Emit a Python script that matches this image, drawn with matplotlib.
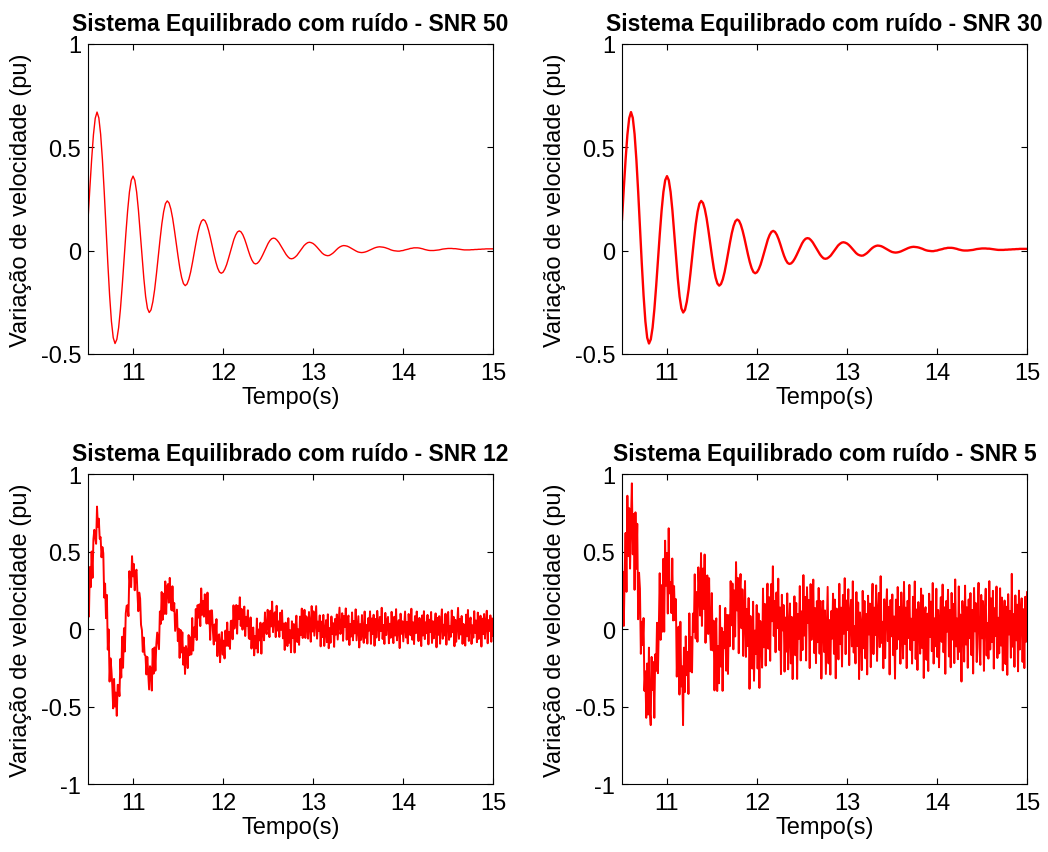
import numpy as np
import matplotlib.pyplot as plt

plt.rcParams['font.family'] = ['Liberation Sans', 'DejaVu Sans']

# sample clock of the recorded speed deviation (s)
t_start, t_end = 10.5, 15.0

# speed deviation (pu), one value every 0.02 s
clean = [
    .15, .30, .44, .56, .64,
    .67, .642, .563, .439, .283, .11, -.063, -.219, -.343, -.422, -.45,
    -.43, -.373, -.283, -.17, -.045, .08, .193, .283, .34, .36,
    .34, .283, .195, .087, -.027, -.135, -.223, -.28, -.30,
    -.287, -.248, -.189, -.113, -.03, .053, .129, .188, .227, .24,
    .23, .201, .156, .098, .035, -.028, -.086, -.131, -.16, -.17,
    -.162, -.139, -.104, -.059, -.01, .039, .084, .119, .142, .15,
    .144, .125, .096, .06, .02, -.02, -.056, -.085, -.104, -.11,
    -.105, -.09, -.068, -.039, -.008, .024, .053, .075, .09, .095,
    .09, .076, .055, .029, .001, -.025, -.046, -.06, -.065,
    -.062, -.053, -.039, -.022, -.003, .017, .034, .048, .057, .06,
    .058, .05, .039, .025, .01, -.005, -.019, -.03, -.038, -.04,
    -.038, -.032, -.024, -.012, 0, .012, .024, .032, .038, .04,
    .038, .034, .027, .018, .008, -.002, -.012, -.019, -.023, -.025,
    -.024, -.019, -.013, -.005, .004, .012, .018, .022, .024,
    .023, .021, .017, .012, .007, .002, -.003, -.007, -.009, -.01,
    -.009, -.007, -.004, 0, .004, .008, .012, .015, .017, .018,
    .017, .016, .014, .011, .008, .004, .001, -.001, -.002, -.003,
    -.003, -.001, 0, .003, .005, .007, .01, .011, .013, .013,
    .013, .012, .01, .008, .005, .003, .001, 0, 0,
    0, .001, .002, .003, .005, .007, .008, .009, .01, .01,
    .01, .009, .009, .008, .0065, .005, .004, .003, .003, .003,
    .003, .004, .004, .005, .005, .006, .006, .007, .007, .008, .008, .008, .008, .008,
]

# noise on the SNR 12 and SNR 5 traces, every 0.01 s (hundredths of pu)
noise_snr12 = [
    4, -7, 10, -3, 6, -11, 2, 8, -5, -9, 12, -1, 7, -6, 3, -10, 9, 5, -8, 1,
    -4, 11, -7, 6, -12, 3, 8, -2, -9, 10, -5, 4, -13, 7, 1, -6, 9, -3, 12, -8,
    5, -10, 2, 7, -4, -11, 9, 0, -7, 13, -2, 6, -9, 3, 10, -5, -8, 4, 11, -6,
    2, -12, 8, -3, 5, -7, 10, -1, -9, 6, 3, -11, 12, -4, 7, -8, 1, 9, -5, -10,
    6, -2, 11, -7, 4, -9, 8, -13, 3, 5, -6, 10, -1, -8, 12, -4, 7, -11, 2, 9,
    -5, 3, -10, 8, -2, 11, -7, 4, -12, 6, 1, -9, 10, -3, 5, -6, 13, -8, 2, -4,
    9, -11, 7, -1, 4, -10, 12, -5, 3, -7, 8, 0, -9, 11, -6, 2, -13, 6, 10, -3,
    -8, 5, -2, 12, -9, 4, 7, -11, 1, 9, -6, 3, -10, 8, -4, 11, -7, 2, -12, 6,
    3, -9, 10, -5, 1, 8, -12, 6, -3, 11, -7, 4, -8, 2, 9, -10, 5, -1, 12, -6,
    -4, 10, -8, 3, 7, -11, 2, -6, 13, -9, 5, -2, 8, -12, 4, 6, -7, 11, -3, -5,
    9, -1, -10, 7, -4, 12, -8, 3, 5, -11, 10, -6, 1, -9, 8, -3, 11, -7, 4, -13,
    6, 2, -8, 10, -5, 3, -11, 9, -2, 7, -12, 4, 11, -6, 1, -9, 8, -4, 12, -7,
    -3, 10, -9, 5, 2, -10, 7, -1, -12, 11, -5, 8, -7, 3, 13, -8, 4, -2, 9, -11,
    6, -4, 11, -9, 1, 8, -6, 12, -10, 3, -7, 10, -2, 5, -11, 7, -4, 9, -8, 2,
    12, -5, -3, 8, -10, 6, -1, 11, -9, 4, 7, -12, 2, -6, 10, -8, 5, -3, 13, -7,
    1, 9, -11, 4, -6, 10, -2, -8, 12, -5, 3, -9, 7, -1, 11, -10, 6, -4, 8, -12,
    5, -7, 10, 2, -9, 6, -3, 12, -8, 1, -11, 9, -5, 4, 7, -10, 3, -6, 11, -2,
    -9, 8, -4, 13, -7, 2, 6, -12, 10, -3, 5, -8, 1, 11, -6, 4, -10, 9, -2, -5,
    12, -8, 3, -11, 7, -4, 10, -1, -9, 6, 2, -12, 8, -5, 11, -7, 4, -3, 9, -10,
    6, -2, 11, -9, 5, -6, 1, 10, -12, 7, -4, 8, -10, 3, 12, -7, 2, -5, 9, -11,
    4, 10, -8, 1, -6, 11, -3, 7, -12, 5, -9, 2, 13, -7, 6, -4, 8, -10, 3, -1,
    -11, 9, -5, 12, -8, 4, 7, -10, 2, -6, 11, -3, 5, -9, 10, -7, 1, 8, -12, 6,
    -4, 9, -7, 3, 11, -10, 5, -2, 8, -9, 6, -5,
]

noise_snr5 = [
    -12, 22, -28, 6, 18, -20, 30, -9, 14, -25, 3, 27, -16, 10, -31, 19, -5, 24, -22, 8,
    15, -27, 11, -4, 29, -18, 7, -23, 20, -13, 33, -8, -19, 25, -2, 16, -29, 12, -10, 21,
    -24, 5, 28, -15, 9, -21, 17, -30, 23, -6, 13, -26, 31, -11, 2, -18, 26, -14, 19, -3,
    22, -28, 8, 15, -20, 27, -9, 4, -32, 18, -12, 24, -5, 10, -23, 29, -16, 6, -25, 13,
    -7, 30, -19, 11, -27, 21, 3, -14, 25, -22, 16, -10, 28, -29, 7, 19, -13, 23, -4, -17,
    26, -11, 14, -31, 9, 20, -24, 5, -18, 32, -8, 17, -26, 12, -2, 24, -21, 15, -28, 10,
    -15, 27, -6, 21, -25, 13, -19, 29, -3, 18, -30, 8, 23, -12, 16, -27, 4, 25, -20, 11,
    -9, 22, -33, 14, 6, -17, 28, -23, 10, -5, 26, -15, 19, -29, 12, 2, -21, 30, -11, 17,
    -26, 7, 24, -18, 13, -28, 20, -4, 31, -14, 9, -24, 16, -7, 27, -19, 11, -32, 22, -1,
    18, -25, 12, -10, 29, -20, 6, 23, -16, 14, -27, 3, 25, -13, 19, -30, 10, -6, 26, -22,
    8, -17, 30, -9, 15, -26, 21, -2, 13, -31, 24, -12, 5, 28, -18, 11, -23, 17, -8, 27,
    -14, 20, -29, 7, 22, -11, 16, -25, 3, 31, -19, 9, -27, 14, -5, 24, -16, 19, -33, 12,
    6, -22, 26, -13, 10, -28, 18, -7, 29, -20, 15, -4, 23, -26, 8, 17, -12, 30, -15, 2,
    -21, 25, -9, 19, -30, 13, 4, -24, 27, -10, 20, -17, 11, -28, 22, -3, 16, -25, 9, 28,
    -18, 12, -6, 26, -23, 7, 21, -14, 32, -11, 3, -27, 18, -20, 10, 25, -8, 14, -29, 19,
    -4, 23, -16, 9, -31, 20, -12, 28, -6, 15, -22, 24, -1, -19, 30, -10, 13, -26, 17, -7,
    27, -15, 5, -24, 19, -9, 29, -21, 11, -28, 16, 2, -17, 25, -13, 21, -32, 8, 14, -20,
    10, -27, 23, -5, 18, -14, 30, -22, 7, -11, 26, -18, 12, -25, 4, 20, -9, 28, -16, 13,
    -30, 17, -3, 24, -19, 11, -26, 22, -8, 15, -23, 31, -12, 6, -20, 27, -15, 9, -34, 18,
    5, -21, 28, -10, 14, -25, 19, -6, 23, -17, 12, -29, 26, -2, 16, -22, 8, 29, -13, -24,
    21, -7, 17, -28, 10, 25, -18, 3, -20, 30, -14, 19, -9, 24, -26, 13, -5, 27, -19, 7,
    -16, 26, -11, 20, -27, 6, 18, -23, 14, -30, 22, -4, 11, -19, 35, -12, 9, -25, 21, -8,
    15, -28, 24, -14, 7, 19, -22, 12, -26, 20, -9, 23,
]

titles = ['Sistema Equilibrado com ruído - SNR 50',
          'Sistema Equilibrado com ruído - SNR 30',
          'Sistema Equilibrado com ruído - SNR 12',
          'Sistema Equilibrado com ruído - SNR 5']
x_ticks = [11, 12, 13, 14, 15]
y_ticks_top = [-0.5, 0, 0.5, 1]
y_ticks_bottom = [-1, -0.5, 0, 0.5, 1]


def noisy_trace(noise):
    # the clean record is held over the two 0.01 s noise samples
    n = min(len(noise), 2 * len(clean))
    base = np.repeat(np.array(clean), 2)[:n]
    tt = np.linspace(t_start, t_end, n)
    return tt, base + np.array(noise[:n]) / 100.0


t = np.linspace(t_start, t_end, len(clean))
series = [
    (t, np.array(clean), 1.0),
    (t, np.array(clean), 1.7),
    (*noisy_trace(noise_snr12), 1.4),
    (*noisy_trace(noise_snr5), 1.4),
]

fig = plt.figure(figsize=(10.48, 8.53), dpi=100)
positions = [
    [0.084, 0.584, 0.3865, 0.3634],
    [0.5935, 0.584, 0.3865, 0.3634],
    [0.084, 0.0797, 0.3865, 0.3634],
    [0.5935, 0.0797, 0.3865, 0.3634],
]

fs = 17
for i, (pos, (x, y, lw)) in enumerate(zip(positions, series)):
    ax = fig.add_axes(pos)
    ax.plot(x, y, color='red', linewidth=lw)
    ax.set_xlim(t_start, t_end)
    yt = y_ticks_top if i < 2 else y_ticks_bottom
    ax.set_ylim(yt[0], yt[-1])
    ax.set_xticks(x_ticks)
    ax.set_xticklabels([f'{v:g}' for v in x_ticks])
    ax.set_yticks(yt)
    ax.set_yticklabels([f'{v:g}' for v in yt])
    ax.tick_params(direction='in', top=True, right=True, length=4,
                   width=0.8, labelsize=fs)
    ax.tick_params(axis='x', pad=6)
    ax.tick_params(axis='y', pad=5)
    for s in ax.spines.values():
        s.set_linewidth(0.8)
    ax.set_title(titles[i], fontsize=16.5, fontweight='bold', pad=10)
    ax.set_xlabel('Tempo(s)', fontsize=fs, labelpad=1)
    ax.set_ylabel('Variação de velocidade (pu)', fontsize=fs, labelpad=6)

fig.savefig('out.png', dpi=100, facecolor='white')
